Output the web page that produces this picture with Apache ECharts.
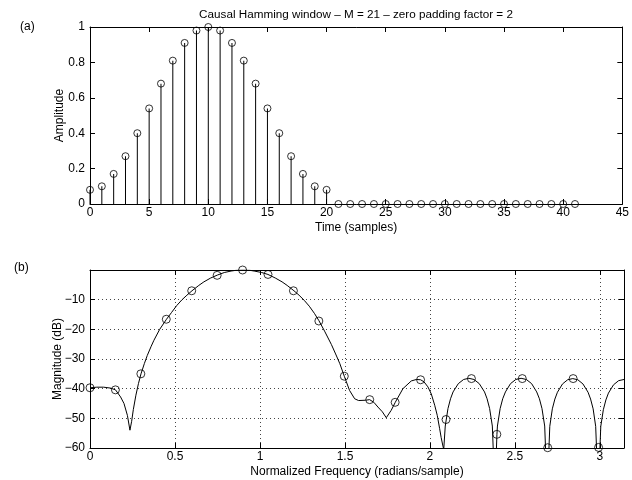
<!DOCTYPE html>
<html>
<head>
<meta charset="utf-8">
<script src="https://cdn.jsdelivr.net/npm/echarts@6/dist/echarts.min.js"></script>
<style>html,body{margin:0;padding:0;background:#fff;}#c{width:632px;height:480px;}</style>
</head>
<body>
<div id="c"></div>
<script>
var timeIdx = [0,1,2,3,4,5,6,7,8,9,10,11,12,13,14,15,16,17,18,19,20,21,22,23,24,25,26,27,28,29,30,31,32,33,34,35,36,37,38,39,40,41];
var amplitude = [0.08,0.10,0.17,0.27,0.40,0.54,0.68,0.81,0.91,0.98,1.00,0.98,0.91,0.81,0.68,0.54,0.40,0.27,0.17,0.10,0.08,
  0,0,0,0,0,0,0,0,0,0,0,0,0,0,0,0,0,0,0,0,0];
var timeTicks = [0,5,10,15,20,25,30,35,40,45];
var ampTicks = [0,0.2,0.4,0.6,0.8,1];

var dftFreq = [0,0.1496,0.2992,0.4488,0.5984,0.7480,0.8976,1.0472,1.1968,1.3464,1.4960,1.6456,1.7952,1.9448,2.0944,2.2440,2.3936,2.5432,2.6928,2.8424,2.9920];
var dftMag  = [-39.7,-40.4,-35.0,-16.6,-7.0,-1.8,0,-1.5,-7.0,-17.2,-35.8,-43.7,-44.6,-37.0,-50.4,-36.6,-55.4,-36.6,-59.9,-36.6,-59.8];

var curveFreq = [
  0,0.04,0.08,0.12,0.15,0.18,0.20,0.22,0.235,0.245,0.255,0.27,0.285,
  0.30,0.32,0.337,0.36,0.376,0.41,0.45,0.48,0.51,0.54,0.57,0.60,0.64,0.67,0.71,0.75,0.79,0.83,0.86,0.90,
  0.94,0.97,1.01,1.047,1.09,1.13,1.16,1.20,1.23,1.26,1.29,1.32,1.346,1.38,1.42,1.445,1.47,1.496,
  1.527,1.557,1.58,1.62,1.645,1.67,1.694,1.72,1.743,1.772,1.796,1.841,1.89,1.92,1.945,1.965,1.988,2.008,2.028,2.043,2.057,2.066,2.075,
  2.081,2.090,2.106,2.121,2.136,2.167,2.198,2.229,2.259,2.290,2.321,2.336,2.351,2.367,2.382,
  2.394,2.397,2.413,2.428,2.444,2.474,2.505,2.536,2.567,2.598,2.628,2.644,2.659,2.675,2.690,
  2.705,2.720,2.735,2.750,2.780,2.810,2.840,2.870,2.900,2.930,2.945,2.960,2.975,2.990,
  3.005,3.020,3.035,3.050,3.080,3.110,3.1416];
var curveMag = [
  -39.7,-39.5,-39.5,-39.8,-40.4,-42.8,-45.0,-49.0,-54.0,-51.0,-47.0,-42.2,-38.3,
  -35.0,-31.5,-28.8,-25.7,-23.7,-20.0,-16.6,-14.3,-12.0,-10.1,-8.5,-7.0,-5.2,-4.0,-2.7,-1.7,-0.85,-0.35,-0.1,0,
  -0.1,-0.4,-0.85,-1.5,-2.7,-4.0,-5.2,-7.0,-8.5,-10.2,-12.2,-14.6,-17.0,-20.6,-25.1,-28.3,-31.6,-35.8,
  -40.6,-43.4,-44.0,-43.9,-43.7,-44.6,-46.2,-47.8,-49.8,-47.3,-44.6,-40.0,-37.4,-36.9,-37.0,-37.7,-39.4,-41.8,-45.6,-49.0,-53.5,-56.5,-59.0,
  -60.5,-52.6,-46.7,-43.4,-41.1,-38.3,-36.9,-36.5,-36.9,-38.3,-41.1,-43.4,-46.7,-52.6,-75,
  -55.4,-52.6,-46.7,-43.4,-41.1,-38.3,-36.9,-36.5,-36.9,-38.3,-41.1,-43.4,-46.7,-52.6,-75,
  -52.7,-46.8,-43.5,-41.2,-38.4,-37.0,-36.6,-37.0,-38.4,-41.2,-43.5,-46.8,-52.7,-75,
  -52.7,-47.1,-43.8,-41.5,-38.7,-37.3,-36.9];
var freqTicks = [0,0.5,1,1.5,2,2.5,3];
var magTicks = [-60,-50,-40,-30,-20,-10,0];

var FONT = 'Liberation Sans';
var FS = 12;
function pairs(a, b) { var r = []; for (var i = 0; i < a.length; i++) r.push([a[i], b[i]]); return r; }

var chart = echarts.init(document.getElementById('c'), null, {renderer: 'canvas'});

function axisBase(extra) {
  var o = {
    axisLine: {show: true, onZero: false, lineStyle: {color: '#000', width: 1}},
    axisTick: {show: true, inside: true, length: 5, lineStyle: {color: '#000', width: 1}},
    axisLabel: {color: '#000', fontFamily: FONT, fontSize: FS},
    splitLine: {show: false},
    nameMoveOverlap: false,
    nameTextStyle: {color: '#000', fontFamily: FONT, fontSize: FS}
  };
  for (var k in extra) o[k] = extra[k];
  return o;
}
var gridLine = {show: true, lineStyle: {color: '#444', width: 1, type: [1, 3]}};

var option = {
  animation: false,
  backgroundColor: '#fff',
  grid: [
    {left: 90, right: 7, top: 27, height: 177},
    {left: 90, right: 8, top: 270, height: 178}
  ],
  xAxis: [
    axisBase({type: 'value', gridIndex: 0, min: timeTicks[0], max: timeTicks[timeTicks.length-1], interval: 5,
      name: 'Time (samples)', nameLocation: 'middle', nameGap: 18, axisLabel: {color: '#000', fontFamily: FONT, fontSize: FS, margin: 3}}),
    axisBase({type: 'value', gridIndex: 0, position: 'top', min: 0, max: 45, interval: 5, axisLabel: {show: false}}),
    axisBase({type: 'value', gridIndex: 1, min: 0, max: Math.PI, interval: 0.5,
      name: 'Normalized Frequency (radians/sample)', nameLocation: 'middle', nameGap: 18,
      splitLine: gridLine,
      axisLabel: {color: '#000', fontFamily: FONT, fontSize: FS, margin: 3, showMaxLabel: false,
        formatter: function (v) { return freqTicks.indexOf(Math.round(v * 1000) / 1000) >= 0 ? String(v) : ''; }}}),
    axisBase({type: 'value', gridIndex: 1, position: 'top', min: 0, max: Math.PI, interval: 0.5, axisLabel: {show: false}})
  ],
  yAxis: [
    axisBase({type: 'value', gridIndex: 0, min: 0, max: 1, interval: 0.2,
      name: 'Amplitude', nameLocation: 'middle', nameGap: 24,
      axisLabel: {color: '#000', fontFamily: FONT, fontSize: FS, margin: 5}}),
    axisBase({type: 'value', gridIndex: 0, position: 'right', min: 0, max: 1, interval: 0.2, axisLabel: {show: false}}),
    axisBase({type: 'value', gridIndex: 1, min: -60, max: 0, interval: 10,
      name: 'Magnitude (dB)', nameLocation: 'middle', nameGap: 26, splitLine: gridLine,
      axisLabel: {color: '#000', fontFamily: FONT, fontSize: FS, margin: 5,
        formatter: function (v) { return v === 0 ? '' : String(v).replace('-', '\u2212'); }}}),
    axisBase({type: 'value', gridIndex: 1, position: 'right', min: -60, max: 0, interval: 10, axisLabel: {show: false}})
  ],
  graphic: [
    {type: 'text', x: 356, y: 15, style: {text: 'Causal Hamming window \u2013 M = 21 \u2013 zero padding factor = 2', font: '11.7px "Liberation Sans"', fill: '#000', textAlign: 'center', textVerticalAlign: 'middle'}},
    {type: 'text', x: 20, y: 27, style: {text: '(a)', font: '12px "Liberation Sans"', fill: '#000', textAlign: 'left', textVerticalAlign: 'middle'}},
    {type: 'text', x: 14, y: 268, style: {text: '(b)', font: '12px "Liberation Sans"', fill: '#000', textAlign: 'left', textVerticalAlign: 'middle'}}
  ],
  series: [
    {type: 'bar', xAxisIndex: 0, yAxisIndex: 0, barWidth: 1, data: pairs(timeIdx, amplitude), itemStyle: {color: '#000'}, silent: true},
    {type: 'scatter', xAxisIndex: 0, yAxisIndex: 0, data: pairs(timeIdx, amplitude), symbol: 'circle', symbolSize: 7,
      itemStyle: {color: 'rgba(0,0,0,0)', borderColor: '#000', borderWidth: 1}, silent: true, clip: false},
    {type: 'line', xAxisIndex: 2, yAxisIndex: 2, data: pairs(curveFreq, curveMag), showSymbol: false, symbol: 'none',
      lineStyle: {color: '#000', width: 1}, silent: true, clip: true},
    {type: 'scatter', xAxisIndex: 2, yAxisIndex: 2, data: pairs(dftFreq, dftMag), symbol: 'circle', symbolSize: 8,
      itemStyle: {color: 'rgba(0,0,0,0)', borderColor: '#000', borderWidth: 1}, silent: true, clip: false}
  ]
};
chart.setOption(option);
</script>
</body>
</html>
